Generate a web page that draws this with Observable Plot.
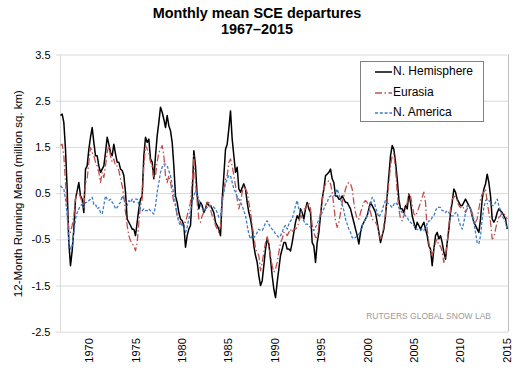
<!DOCTYPE html>
<html><head><meta charset="utf-8">
<script src="https://cdn.jsdelivr.net/npm/d3@7"></script>
<script src="https://cdn.jsdelivr.net/npm/@observablehq/plot@0.6"></script>
<style>
body{margin:0;background:#fff;}
#wrap{position:relative;width:520px;height:372px;font-family:"Liberation Sans",Arial,sans-serif;overflow:hidden;background:#fff}
#chart{position:absolute;left:0;top:0}
#title{position:absolute;left:0;top:4.5px;width:514px;text-align:center;font-weight:bold;font-size:14.4px;line-height:16.5px;color:#000}
#legend{position:absolute;left:360px;top:61px;width:124px;height:61px;border:1px solid #808080;background:#fff;box-sizing:border-box}
.row{position:absolute;left:14px;height:16px;font-size:12px;line-height:16px;color:#000;white-space:nowrap}
.row svg{vertical-align:middle;margin-right:1px}
#credit{position:absolute;right:29px;top:311px;font-size:8.5px;color:#9a9a9a;white-space:nowrap}
</style></head>
<body>
<div id="wrap">
  <div id="chart"></div>
  <div id="title">Monthly mean SCE departures<br>1967–2015</div>
  <div id="legend"></div>
  <div id="credit">RUTGERS GLOBAL SNOW LAB</div>
</div>
<script>
// sampling: first sample (years) and spacing between samples (years)
const t0 = 1966.84;
const dt = 0.1797;

const seriesNames = ["N. Hemisphere", "Eurasia", "N. America"];
const xTicks = [1970, 1975, 1980, 1985, 1990, 1995, 2000, 2005, 2010, 2015];
const yTicks = [-2.5, -1.5, -0.5, 0.5, 1.5, 2.5, 3.5];
const gridValues = [-2.5, -1.5, -0.5, 0, 0.5, 1.5, 2.5, 3.5];

const nh = [
2.19,2.22,2.04,1.46,0.60,-0.56,-1.06,-0.74,-0.27,0.38,
0.56,0.74,0.45,0.38,0.09,1.03,1.10,1.46,1.72,1.93,
1.61,1.32,1.32,1.10,0.96,1.03,1.10,1.39,1.72,1.57,
1.39,1.32,1.57,1.36,1.18,1.18,1.03,1.00,0.89,0.53,
-0.05,-0.12,-0.19,-0.27,-0.27,-0.41,-0.12,0.17,0.38,0.45,
1.32,1.72,1.61,1.68,1.25,1.18,0.82,1.32,1.75,2.04,
2.37,2.26,2.11,1.93,2.19,1.97,1.86,1.61,1.10,0.45,
0.31,0.09,-0.05,-0.09,-0.19,-0.66,-0.41,-0.27,-0.19,0.45,
1.43,1.10,0.45,0.17,0.31,0.24,0.09,0.17,0.31,0.24,
0.24,0.17,0.09,-0.12,-0.19,-0.27,-0.41,0.38,0.89,1.46,
1.57,1.90,2.29,1.68,1.32,0.96,1.07,0.60,0.53,0.63,
0.71,0.60,0.31,0.09,-0.05,-0.27,-0.63,-0.84,-0.99,-1.28,
-1.49,-1.39,-1.06,-0.70,-0.48,-0.59,-0.92,-1.28,-1.57,-1.75,
-1.42,-1.13,-0.84,-0.70,-0.56,-0.56,
-0.70,-0.70,-0.74,-0.56,-0.34,-0.12,0.02,-0.05,0.17,0.09,
-0.05,0.17,0.31,0.17,0.09,-0.56,-0.63,-0.99,-0.56,-0.34,
0.02,0.38,0.60,0.89,0.92,0.96,1.03,0.82,0.74,0.45,
0.45,0.38,0.38,0.45,0.38,0.31,0.31,0.24,0.17,0.02,
-0.12,-0.27,-0.41,-0.59,-0.34,-0.19,-0.12,-0.05,0.02,0.17,
0.31,0.24,0.17,0.09,-0.12,-0.34,-0.56,-0.41,-0.27,0.02,
0.45,0.89,1.32,1.54,1.46,1.18,
0.82,0.38,0.17,0.17,0.09,0.24,0.17,0.49,0.31,0.02,
-0.12,-0.27,-0.12,-0.19,-0.27,-0.19,-0.12,-0.27,-0.41,-0.63,
-0.70,-1.06,-0.70,-0.41,-0.34,-0.48,-0.41,-0.56,-0.77,-0.92,
-0.56,-0.27,0.09,0.31,0.60,0.53,0.38,0.31,0.24,0.24,
0.31,0.38,0.31,0.24,0.17,0.02,-0.12,-0.19,-0.27,-0.34,
-0.05,0.38,0.60,0.71,0.92,0.74,0.45,-0.05,-0.12,-0.05,
0.09,0.17,0.13,0.09,0.02,-0.05,-0.27
];

const eurasia = [
1.54,1.57,1.32,0.74,0.17,-0.27,-0.34,-0.19,0.02,0.38,
0.53,0.53,0.42,0.31,0.24,0.74,0.82,1.18,1.50,1.39,
1.32,1.18,1.10,0.96,0.74,0.96,0.85,1.10,1.39,1.54,
1.32,1.18,1.25,1.10,1.10,1.00,0.82,0.67,0.45,0.09,
-0.19,-0.41,-0.52,-0.59,-0.63,-0.74,-0.56,-0.12,0.24,0.38,
1.10,1.54,1.46,1.39,1.18,1.10,0.82,0.89,1.18,1.39,
1.46,1.54,1.32,0.89,0.74,0.89,0.74,0.53,0.31,0.24,
0.02,-0.05,-0.12,-0.19,-0.12,-0.12,0.02,0.17,0.31,0.74,
1.32,0.74,0.31,-0.05,-0.12,0.02,0.09,0.17,0.31,0.31,
0.17,0.02,-0.05,-0.19,-0.27,-0.34,-0.19,0.31,0.60,0.82,
0.89,1.18,1.25,1.10,0.89,0.67,0.38,0.17,0.31,0.53,
0.67,0.60,0.53,0.31,0.09,-0.19,-0.41,-0.70,-0.77,-0.84,
-1.17,-0.99,-0.77,-0.56,-0.41,-0.63,-0.84,-1.06,-1.20,-1.13,
-0.99,-0.77,-0.56,-0.48,-0.34,-0.34,
-0.41,-0.34,-0.27,-0.34,-0.27,-0.27,-0.23,-0.12,0.02,0.13,
0.17,0.17,0.24,0.31,0.17,-0.19,-0.34,-0.45,-0.45,-0.19,
0.09,0.31,0.60,0.71,0.74,0.78,0.71,0.53,0.24,-0.09,
-0.23,-0.12,0.09,0.31,0.45,0.60,0.71,0.74,0.71,0.60,
0.31,0.09,-0.05,-0.05,0.09,0.20,0.31,0.35,0.31,0.20,
0.09,-0.05,-0.09,-0.12,-0.19,-0.34,-0.48,-0.41,-0.19,0.09,
0.38,0.74,1.10,1.32,1.36,1.03,
0.53,0.17,-0.05,-0.09,0.02,0.17,0.31,0.49,0.45,0.24,
0.06,0.02,0.09,0.20,0.31,0.42,0.53,0.31,-0.27,-0.56,
-0.77,-0.84,-0.70,-0.56,-0.48,-0.63,-0.63,-0.77,-0.99,-0.84,
-0.56,-0.19,0.17,0.38,0.42,0.45,0.35,0.24,0.20,0.24,
0.17,0.09,0.17,0.24,0.17,0.09,-0.05,-0.12,-0.05,0.17,
0.38,0.49,0.53,0.60,0.31,0.09,-0.12,-0.48,-0.45,-0.27,
-0.12,-0.01,0.02,0.09,0.06,0.02,-0.05
];

const northAmerica = [
0.67,0.63,0.60,0.38,0.02,-0.56,-0.70,-0.63,-0.34,-0.05,
0.09,0.17,0.24,0.27,0.20,0.31,0.31,0.35,0.38,0.42,
0.27,0.27,0.17,0.20,0.09,0.06,0.24,0.45,0.38,0.35,
0.38,0.31,0.27,0.17,0.20,0.27,0.31,0.45,0.38,0.31,
0.24,0.35,0.31,0.38,0.31,0.38,0.38,0.27,0.17,0.13,
0.17,0.13,0.13,0.17,0.13,0.09,0.06,0.24,0.53,0.74,
0.96,1.07,1.14,1.14,1.10,0.99,0.89,0.67,0.49,0.27,
0.02,-0.12,-0.19,-0.16,-0.23,-0.34,-0.23,-0.05,0.13,0.31,
0.45,0.56,0.49,0.38,0.27,0.17,0.13,0.17,0.20,0.24,
0.24,0.24,0.20,0.17,0.09,-0.01,0.02,0.31,0.53,0.71,
0.82,0.89,0.89,0.74,0.60,0.53,0.42,0.38,0.31,0.24,
0.13,0.02,-0.19,-0.38,-0.48,-0.41,-0.45,-0.41,-0.34,-0.27,
-0.30,-0.30,-0.23,-0.12,-0.09,-0.16,-0.23,-0.27,-0.30,-0.38,
-0.41,-0.45,-0.41,-0.34,-0.23,-0.19,
-0.27,-0.16,-0.09,-0.05,0.09,0.24,0.35,0.17,0.06,-0.05,
-0.09,-0.16,-0.16,-0.19,-0.23,-0.27,-0.30,-0.23,-0.16,-0.05,
0.02,0.09,0.17,0.27,0.31,0.42,0.45,0.45,0.45,0.49,
0.60,0.49,0.38,0.27,0.13,-0.05,-0.16,-0.27,-0.34,-0.45,
-0.48,-0.45,-0.41,-0.38,-0.30,-0.19,-0.12,-0.05,0.02,0.13,
0.27,0.42,0.38,0.20,0.09,-0.01,0.06,0.13,0.27,0.35,
0.31,0.27,0.24,0.20,0.27,0.31,
0.27,0.20,0.13,0.09,0.06,0.02,-0.01,-0.09,-0.12,-0.16,
-0.19,-0.27,-0.27,-0.30,-0.30,-0.27,-0.30,-0.23,-0.16,-0.09,
-0.09,-0.01,0.02,0.13,0.20,0.20,0.20,0.13,0.13,0.09,
0.13,0.09,0.02,0.02,0.02,0.09,0.09,-0.09,-0.19,-0.27,
-0.12,0.09,0.24,0.20,0.17,0.02,-0.12,-0.34,-0.56,-0.59,
-0.41,-0.05,0.20,0.35,0.38,0.35,0.31,0.24,0.24,0.31,
0.38,0.24,0.13,0.02,-0.05,-0.12,-0.27
];

const colors = {"N. Hemisphere": "#000000", "Eurasia": "#c0504d", "N. America": "#3d7cc9"};
const dashes = {"N. Hemisphere": null, "Eurasia": "7,2.5,1.5,2.5", "N. America": "3,1.8"};
const widths = {"N. Hemisphere": 1.5, "Eurasia": 1.3, "N. America": 1.3};

const rows = (vals) => vals.map((v, i) => ({year: t0 + i * dt, value: v}));
const seriesData = {"N. Hemisphere": rows(nh), "Eurasia": rows(eurasia), "N. America": rows(northAmerica)};

const lineMark = (name) => Plot.line(seriesData[name], {
  x: "year", y: "value", stroke: colors[name], strokeWidth: widths[name],
  strokeDasharray: dashes[name], strokeLinejoin: "round", strokeLinecap: "butt"
});

const chart = Plot.plot({
  width: 520, height: 372,
  marginTop: 54.5, marginBottom: 40.3, marginLeft: 60, marginRight: 12,
  style: {fontFamily: "'Liberation Sans', Arial, sans-serif", fontSize: "11px", color: "#000", background: "transparent"},
  x: {domain: [1966.84, 2015.14]},
  y: {domain: [-2.5, 3.5]},
  marks: [
    Plot.ruleY(gridValues, {stroke: "#d9d9d9", strokeWidth: 1}),
    Plot.ruleX([1966.84], {stroke: "#d9d9d9", strokeWidth: 1}),
    Plot.ruleX([2015.14], {stroke: "#bfbfbf", strokeWidth: 1}),
    Plot.axisX({ticks: xTicks, tickFormat: d => String(d), tickRotate: -90, tickSize: 0, tickPadding: 6, label: null, fontSize: 11}),
    Plot.axisY({ticks: yTicks, tickFormat: d => d.toFixed(1), tickSize: 4, tickPadding: 6, stroke: "#d9d9d9", fontSize: 11, label: null}),
    Plot.axisY({ticks: [], tickSize: 0, label: "12-Month Running Mean (million sq. km)", labelAnchor: "center", labelOffset: 47, labelArrow: "none", fontSize: 11.5}),
    lineMark("N. Hemisphere"),
    lineMark("Eurasia"),
    lineMark("N. America")
  ]
});
document.getElementById("chart").appendChild(chart);

// legend
const legend = document.getElementById("legend");
const rowTops = [1, 22, 42];
seriesNames.forEach((name, i) => {
  const r = document.createElement("div");
  r.className = "row";
  r.style.top = rowTops[i] + "px";
  const dash = dashes[name] ? `stroke-dasharray="${dashes[name]}"` : "";
  r.innerHTML = `<svg width="17" height="16"><line x1="0" x2="17" y1="8" y2="8" stroke="${colors[name]}" stroke-width="${widths[name]}" ${dash}/></svg>${name}`;
  legend.appendChild(r);
});
</script>
</body></html>
